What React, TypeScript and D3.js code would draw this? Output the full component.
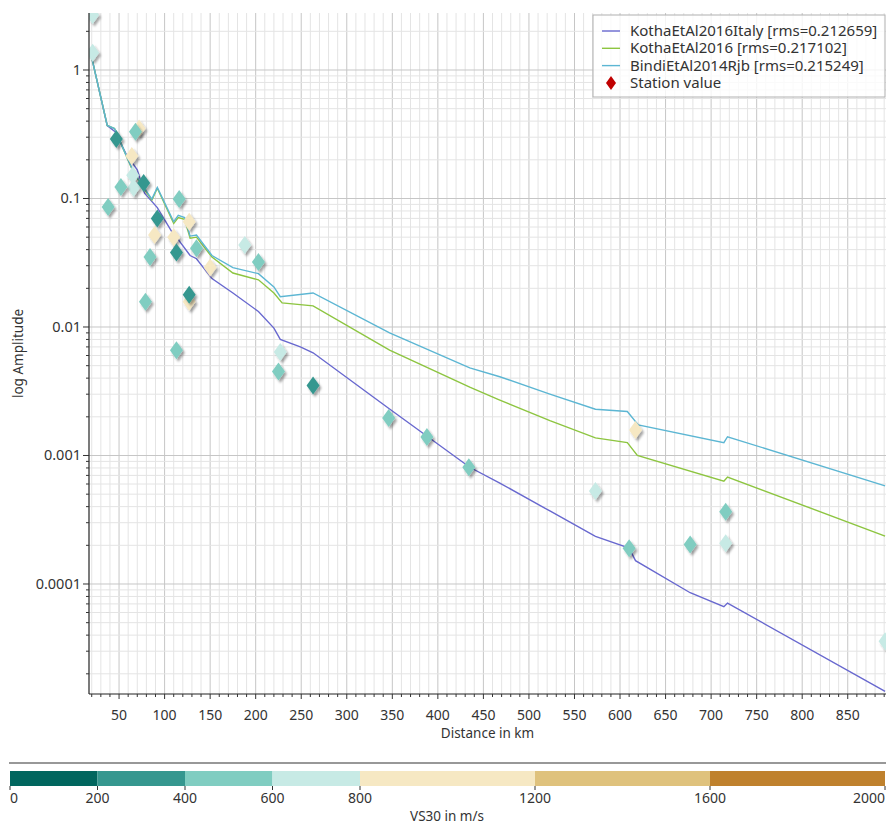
import { useEffect, useRef } from 'react'
import * as d3 from 'd3'

const W = 887
const H = 829
const PLOT = { left: 89, top: 13, right: 886, bottom: 694 }
const FONT = '"Noto Sans", "DejaVu Sans", sans-serif'
const TEXT = '#333333'

const X_DOMAIN = [17, 892]
const Y_DOMAIN = [1.393e-5, 2.777]

// model curves (distance in km, amplitude)
const italyDist = [20, 37, 46, 58, 70, 78, 92, 108, 113, 128, 135, 152, 175, 203, 220, 227, 249, 263, 347, 435, 468, 523, 573, 610, 617, 677, 714, 718, 891]
const italyAmp = [1.25, 0.37, 0.33, 0.22, 0.167, 0.11, 0.085, 0.055, 0.05, 0.036, 0.034, 0.0238, 0.0184, 0.0132, 0.0098, 0.008, 0.007, 0.0063, 0.0023, 0.00081, 0.00061, 0.00037, 0.000235, 0.00019, 0.000152, 0.0000855, 0.0000665, 0.000071, 0.0000146]

const kothaDist = [20, 37, 45, 55, 66, 80, 86, 92, 110, 115, 122, 128, 135, 152, 175, 203, 220, 229, 263, 347, 435, 468, 523, 573, 608, 619, 714, 718, 891]
const kothaAmp = [1.25, 0.37, 0.35, 0.24, 0.158, 0.112, 0.097, 0.12, 0.064, 0.071, 0.069, 0.049, 0.05, 0.035, 0.0263, 0.0233, 0.0184, 0.0154, 0.0146, 0.0066, 0.0034, 0.0027, 0.00187, 0.00137, 0.00126, 0.001, 0.00063, 0.00068, 0.000236]

const bindiDist = [20, 37, 45, 55, 66, 80, 86, 92, 110, 115, 122, 128, 135, 152, 175, 203, 220, 227, 263, 347, 435, 468, 523, 573, 608, 620, 714, 718, 891]
const bindiAmp = [1.25, 0.37, 0.35, 0.24, 0.16, 0.114, 0.099, 0.122, 0.066, 0.074, 0.071, 0.051, 0.052, 0.036, 0.029, 0.026, 0.0205, 0.0172, 0.0184, 0.009, 0.0048, 0.0041, 0.003, 0.00229, 0.0022, 0.00173, 0.00126, 0.0014, 0.00058]

// station observations
const stationDist = [21, 21, 72, 68, 47, 64, 65, 66, 52, 38, 77, 116, 92, 89, 84, 110, 113, 127, 135, 150, 188, 203, 79, 127, 127, 113, 227, 225, 263, 346, 388, 434, 617, 573, 610, 677, 716, 716, 891]
const stationAmp = [2.68, 1.36, 0.35, 0.33, 0.29, 0.214, 0.152, 0.121, 0.123, 0.086, 0.132, 0.099, 0.07, 0.052, 0.035, 0.05, 0.038, 0.066, 0.041, 0.029, 0.0435, 0.032, 0.0157, 0.0157, 0.0178, 0.0066, 0.0064, 0.0045, 0.0035, 0.00196, 0.00139, 0.00081, 0.00158, 0.00053, 0.00019, 0.000203, 0.000365, 0.000208, 0.0000359]
const stationVs30 = [700, 700, 1000, 500, 300, 1000, 700, 700, 500, 500, 300, 500, 300, 1000, 500, 1000, 300, 1000, 500, 1000, 700, 500, 500, 1000, 300, 500, 700, 500, 300, 500, 500, 500, 1000, 700, 500, 500, 500, 700, 700]

const models = [
  { label: 'KothaEtAl2016Italy [rms=0.212659]', color: '#6868cf', dist: italyDist, amp: italyAmp },
  { label: 'KothaEtAl2016 [rms=0.217102]', color: '#8dc540', dist: kothaDist, amp: kothaAmp },
  { label: 'BindiEtAl2014Rjb [rms=0.215249]', color: '#5cb6d3', dist: bindiDist, amp: bindiAmp },
]

const vsBounds = [0, 200, 400, 600, 800, 1200, 1600, 2000]
const vsColors = ['#01665e', '#35978f', '#80cdc1', '#c7eae5', '#f6e8c3', '#dfc27d', '#bf812d']

const yTickLabels = ['1', '0.1', '0.01', '0.001', '0.0001']

export default function App() {
  const svgRef = useRef<SVGSVGElement>(null)

  useEffect(() => {
    const svg = d3.select(svgRef.current)
    svg.selectAll('*').remove()

    const x = d3.scaleLinear(X_DOMAIN, [PLOT.left, PLOT.right])
    const y = d3.scaleLog(Y_DOMAIN, [PLOT.bottom, PLOT.top])
    const pw = PLOT.right - PLOT.left
    const ph = PLOT.bottom - PLOT.top

    const defs = svg.append('defs')
    defs.append('clipPath').attr('id', 'plot-clip')
      .append('rect').attr('x', PLOT.left).attr('y', PLOT.top).attr('width', pw).attr('height', ph)
    defs.append('clipPath').attr('id', 'label-clip')
      .append('rect').attr('x', 36).attr('y', 0).attr('width', W).attr('height', H)
    const shadow = defs.append('filter').attr('id', 'shadow')
      .attr('x', '-50%').attr('y', '-50%').attr('width', '200%').attr('height', '200%')
    shadow.append('feDropShadow')
      .attr('dx', 2).attr('dy', 2.5).attr('stdDeviation', 1)
      .attr('flood-color', '#000').attr('flood-opacity', 0.35)

    svg.append('rect').attr('width', W).attr('height', H).attr('fill', '#fff')

    // ── Grid ──────────────────────────────────────────────────────────────────
    const grid = svg.append('g').attr('clip-path', 'url(#plot-clip)')
    const xMinor = d3.range(20, 900, 10)
    xMinor.forEach(v => {
      const major = v % 50 === 0
      grid.append('line')
        .attr('x1', x(v)).attr('x2', x(v)).attr('y1', PLOT.top).attr('y2', PLOT.bottom)
        .attr('stroke', major ? '#c6c6c6' : '#e4e4e4').attr('stroke-width', 1)
    })
    const yMinor: number[] = []
    for (let e = -5; e <= 0; e++) for (let k = 1; k <= 9; k++) yMinor.push(k * Math.pow(10, e))
    yMinor.forEach(v => {
      const major = Math.abs(Math.log10(v) - Math.round(Math.log10(v))) < 1e-9
      grid.append('line')
        .attr('x1', PLOT.left).attr('x2', PLOT.right).attr('y1', y(v)).attr('y2', y(v))
        .attr('stroke', major ? '#c6c6c6' : '#e4e4e4').attr('stroke-width', 1)
    })

    // ── Model curves ──────────────────────────────────────────────────────────
    const curves = svg.append('g').attr('clip-path', 'url(#plot-clip)')
    models.forEach(m => {
      const pts = m.dist.map((d, i) => [d, m.amp[i]] as [number, number])
      curves.append('path')
        .attr('d', d3.line<[number, number]>().x(d => x(d[0])).y(d => y(d[1]))(pts) ?? '')
        .attr('fill', 'none').attr('stroke', m.color).attr('stroke-width', 1.4)
    })

    // ── Stations ──────────────────────────────────────────────────────────────
    const color = d3.scaleThreshold<number, string>(vsBounds.slice(1, -1), vsColors)
    const diamond = 'M0,-9L6.5,0L0,9L-6.5,0Z'
    const marks = svg.append('g').attr('clip-path', 'url(#plot-clip)')
    stationDist.forEach((d, i) => {
      marks.append('path')
        .attr('d', diamond)
        .attr('transform', `translate(${x(d)},${y(stationAmp[i])})`)
        .attr('fill', color(stationVs30[i]))
        .attr('filter', 'url(#shadow)')
    })

    // ── Axes ──────────────────────────────────────────────────────────────────
    svg.append('line')
      .attr('x1', PLOT.left).attr('x2', PLOT.left).attr('y1', PLOT.top).attr('y2', PLOT.bottom)
      .attr('stroke', '#222').attr('stroke-width', 1.2)
    svg.append('line')
      .attr('x1', PLOT.left).attr('x2', PLOT.right).attr('y1', PLOT.bottom).attr('y2', PLOT.bottom)
      .attr('stroke', '#222').attr('stroke-width', 1.2)

    xMinor.filter(v => x(v) <= PLOT.right).forEach(v => {
      const major = v % 50 === 0
      svg.append('line')
        .attr('x1', x(v)).attr('x2', x(v))
        .attr('y1', PLOT.bottom).attr('y2', PLOT.bottom + (major ? 5 : 3))
        .attr('stroke', '#333')
      if (major) {
        svg.append('text')
          .attr('x', x(v)).attr('y', 719.5)
          .attr('text-anchor', 'middle').attr('font-size', 14).attr('fill', TEXT)
          .attr('font-family', FONT)
          .text(v)
      }
    })

    yMinor.filter(v => y(v) >= PLOT.top && y(v) <= PLOT.bottom).forEach(v => {
      const major = Math.abs(Math.log10(v) - Math.round(Math.log10(v))) < 1e-9
      svg.append('line')
        .attr('x1', PLOT.left - (major ? 6 : 3)).attr('x2', PLOT.left)
        .attr('y1', y(v)).attr('y2', y(v))
        .attr('stroke', '#333')
    })
    const yLabels = svg.append('g').attr('clip-path', 'url(#label-clip)')
    yTickLabels.forEach(t => {
      yLabels.append('text')
        .attr('x', 81).attr('y', y(+t) + 5)
        .attr('text-anchor', 'end').attr('font-size', 14.5).attr('fill', TEXT)
        .attr('font-family', FONT)
        .text(t)
    })

    svg.append('text')
      .attr('x', (PLOT.left + PLOT.right) / 2).attr('y', 738)
      .attr('text-anchor', 'middle').attr('font-size', 13.5).attr('fill', TEXT)
      .attr('font-family', FONT)
      .text('Distance in km')

    svg.append('text')
      .attr('transform', `translate(23,${(PLOT.top + PLOT.bottom) / 2}) rotate(-90)`)
      .attr('text-anchor', 'middle').attr('font-size', 13.5).attr('fill', TEXT)
      .attr('font-family', FONT)
      .text('log Amplitude')

    // ── Legend ────────────────────────────────────────────────────────────────
    const lg = svg.append('g')
    lg.append('rect')
      .attr('x', 593).attr('y', 15).attr('width', 292).attr('height', 82)
      .attr('fill', '#fff').attr('fill-opacity', 0.8)
      .attr('stroke', '#b0b0b0').attr('stroke-width', 1)
    models.forEach((m, i) => {
      const ly = 31 + i * 17.3
      lg.append('line')
        .attr('x1', 602).attr('x2', 620).attr('y1', ly).attr('y2', ly)
        .attr('stroke', m.color).attr('stroke-width', 1.4)
      lg.append('text')
        .attr('x', 630).attr('y', ly + 5)
        .attr('font-size', 15).attr('fill', TEXT).attr('font-family', FONT)
        .text(m.label)
    })
    const sy = 31 + 3 * 17.3
    lg.append('path')
      .attr('d', 'M0,-7L5,0L0,7L-5,0Z')
      .attr('transform', `translate(611,${sy})`)
      .attr('fill', '#c00000')
    lg.append('text')
      .attr('x', 630).attr('y', sy + 5)
      .attr('font-size', 15).attr('fill', TEXT).attr('font-family', FONT)
      .text('Station value')

    // ── Colorbar ──────────────────────────────────────────────────────────────
    const cx = d3.scaleLinear([0, 2000], [10, 885])
    svg.append('line')
      .attr('x1', 9).attr('x2', 886).attr('y1', 763).attr('y2', 763)
      .attr('stroke', '#333').attr('stroke-width', 1.2)
    vsColors.forEach((c, i) => {
      svg.append('rect')
        .attr('x', cx(vsBounds[i])).attr('y', 771)
        .attr('width', cx(vsBounds[i + 1]) - cx(vsBounds[i])).attr('height', 15)
        .attr('fill', c)
    })
    vsBounds.forEach((b, i) => {
      svg.append('line')
        .attr('x1', cx(b)).attr('x2', cx(b)).attr('y1', 786).attr('y2', 790)
        .attr('stroke', '#333')
      svg.append('text')
        .attr('x', cx(b)).attr('y', 803)
        .attr('text-anchor', i === 0 ? 'start' : i === vsBounds.length - 1 ? 'end' : 'middle')
        .attr('font-size', 14).attr('fill', TEXT).attr('font-family', FONT)
        .text(b)
    })
    svg.append('text')
      .attr('x', 447).attr('y', 821)
      .attr('text-anchor', 'middle').attr('font-size', 13.5).attr('fill', TEXT)
      .attr('font-family', FONT)
      .text('VS30 in m/s')
  }, [])

  return (
    <svg ref={svgRef} width={W} height={H}
      style={{ position: 'fixed', left: 0, top: 0, display: 'block' }} />
  )
}
